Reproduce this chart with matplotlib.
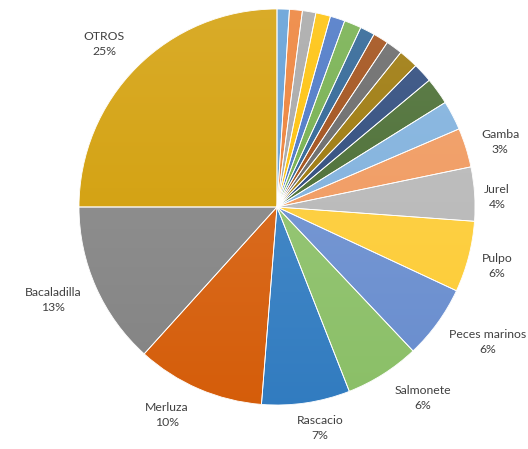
import numpy as np
import matplotlib
matplotlib.use('Agg')
import matplotlib.pyplot as plt
from matplotlib.patches import Wedge
from matplotlib.colors import to_rgb

plt.rcParams['font.family'] = ['Lato', 'DejaVu Sans']

# slices clockwise from 12 o'clock; the small unnamed ones first
names = ['', '', '', '', '', '', '', '', '', '', '', '', '',
         'Gamba', 'Jurel', 'Pulpo', 'Peces marinos', 'Salmonete',
         'Rascacio', 'Merluza', 'Bacaladilla', 'OTROS']
values = [1.0, 1.05, 1.1, 1.2, 1.2, 1.4, 1.2, 1.25, 1.35, 1.6, 1.6, 2.2, 2.4,
          3.2, 4.4, 5.8, 6.0, 6.1, 7.2, 10.45, 13.3, 25.0]
pct_labels = ['', '', '', '', '', '', '', '', '', '', '', '', '',
              '3%', '4%', '6%', '6%', '6%', '7%', '10%', '13%', '25%']

colors = ['#5B9BD5', '#ED7D31', '#A5A5A5', '#FFC000', '#4472C4', '#70AD47',
          '#255E91', '#9E480E', '#636363', '#997300', '#264478', '#43682B',
          '#7CAFDD', '#F1975A', '#B7B7B7', '#FFCD33', '#698ED0', '#8CC168',
          '#327DC2', '#D75E0A', '#848484', '#D29C00']

# label text centres in pixels of the 528x449 picture
label_px = {'Gamba': (500, 142), 'Jurel': (497, 197), 'Pulpo': (497, 266),
            'Peces marinos': (488, 342), 'Salmonete': (423, 398),
            'Rascacio': (320, 428), 'Merluza': (167, 415),
            'Bacaladilla': (53, 300), 'OTROS': (104, 44)}

W, H = 528, 449
cx, cy, r = 277, 207, 198

fig = plt.figure(figsize=(W / 100, H / 100), dpi=100)
ax = fig.add_axes([(cx - r) / W, (H - cy - r) / H, 2 * r / W, 2 * r / H])

wedges, _ = ax.pie(values, colors=colors, startangle=90, counterclock=False,
                   radius=1, wedgeprops=dict(edgecolor='white', linewidth=0.7))

# soft vertical gradient on each slice, lighter at the top
yy = np.linspace(1, 0, 200)[:, None]
for w, c in zip(wedges, colors):
    base = np.array(to_rgb(c))
    top = base + (1 - base) * 0.16
    bot = base * 0.99
    img = top[None, None, :] * yy[:, :, None] + bot[None, None, :] * (1 - yy[:, :, None])
    img = np.repeat(img, 2, axis=1)
    im = ax.imshow(img, extent=(-1, 1, -1, 1), zorder=w.get_zorder() + 0.1,
                   interpolation='bilinear')
    im.set_clip_path(w)

# thin white borders on top of the gradients
for w in wedges:
    ax.add_patch(Wedge((0, 0), 1, w.theta1, w.theta2, fill=False,
                       edgecolor='white', linewidth=0.6, zorder=5))

ax.set_xlim(-1, 1)
ax.set_ylim(-1, 1)
ax.set_aspect('equal')
ax.axis('off')

for name, pct in zip(names, pct_labels):
    if not name:
        continue
    px, py = label_px[name]
    ax.text((px - cx) / r, (cy - py) / r, name + '\n' + pct, ha='center',
            va='center', fontsize=8.8, color='#404040', linespacing=1.5)

fig.savefig('out.png', dpi=100)
